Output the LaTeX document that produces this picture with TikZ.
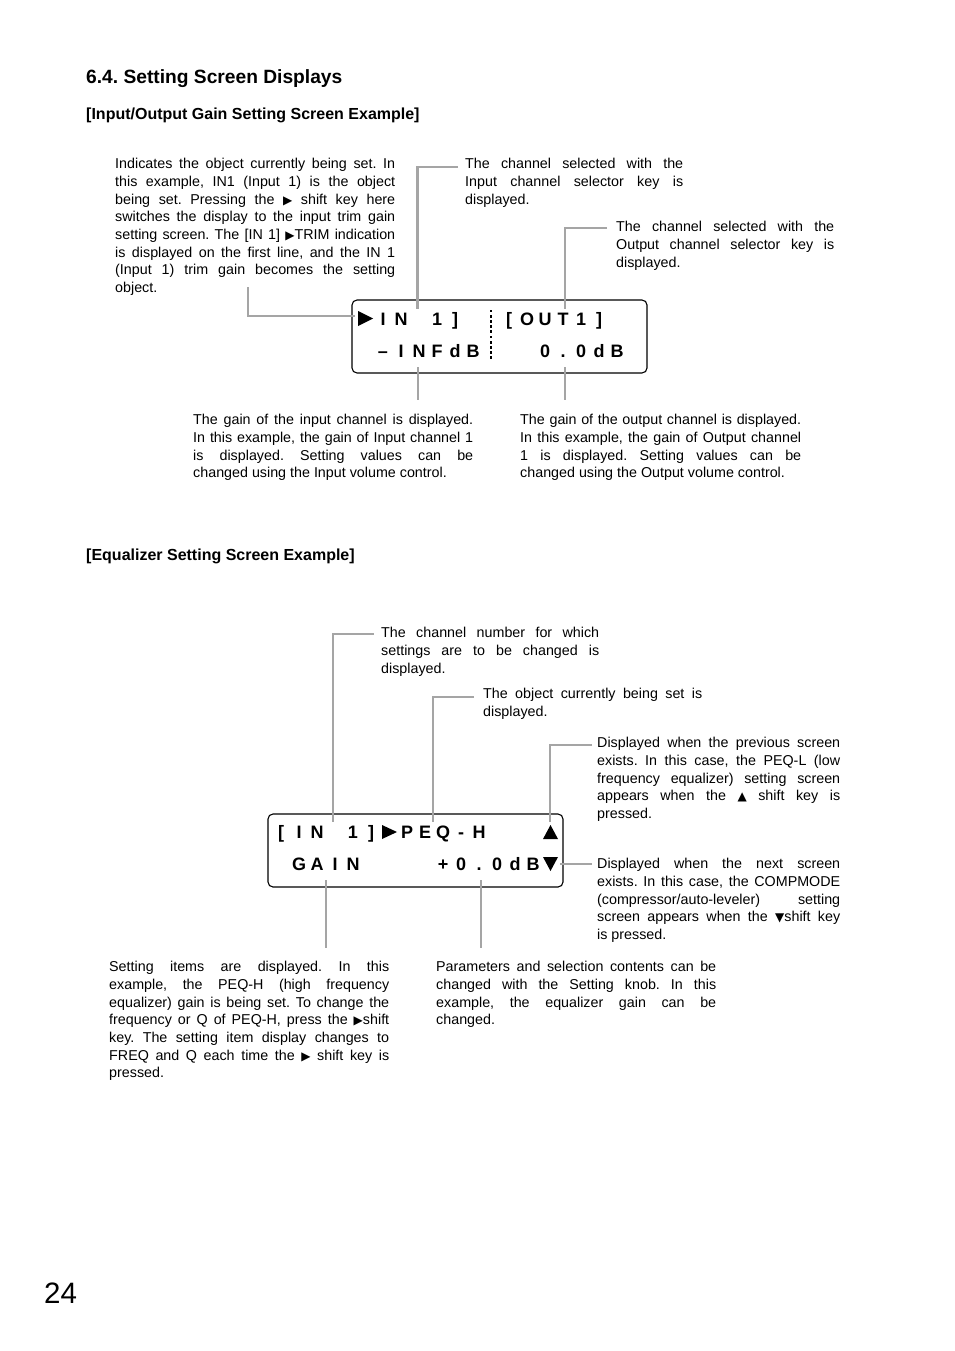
\documentclass[tikz,border=0pt]{standalone}
\usepackage{fontspec}
\setmainfont{Liberation Sans}
\newfontfamily\symf{DejaVu Sans}
\newcommand{\rtri}{{\symf\fontsize{12}{10}\selectfont ▶}}
\newcommand{\utri}{{\symf\fontsize{12}{10}\selectfont ▲}}
\newcommand{\dtri}{{\symf\fontsize{12}{10}\selectfont ▼}}
\definecolor{leadc}{RGB}{165,165,165}
\frenchspacing
\tikzset{
  body/.style={anchor=north west, inner sep=0pt, align=justify, font=\fontsize{14.3}{17.7}\selectfont\frenchspacing},
  leader/.style={draw=leadc, line width=2.4pt},
  lcdbox/.style={draw=black, line width=1.1pt, rounded corners=5pt},
  lcd/.style={anchor=base, inner sep=0pt, font=\bfseries\fontsize{18}{18}\selectfont},
  tri/.style={fill=black, draw=none},
  head/.style={anchor=base west, inner sep=0pt}
}
\begin{document}
\begin{tikzpicture}[x=1pt,y=-1pt]
\useasboundingbox (0,0) rectangle (954,1351);

% headings
\node[head, font=\bfseries\fontsize{19.2}{22}\selectfont\frenchspacing] (h1) at (86,83.3) {6.4. Setting Screen Displays};
\node[head, font=\bfseries\fontsize{16}{18}\selectfont] (h2) at (86,120) {[Input/Output Gain Setting Screen Example]};
\node[head, font=\bfseries\fontsize{16}{18}\selectfont] (h3) at (86,560) {[Equalizer Setting Screen Example]};
\node[head, font=\fontsize{29.5}{34}\selectfont] (pg) at (44,1303) {24};

% ---------- Display 1 ----------
\path[lcdbox] (352,300) rectangle (647,373);
\node[inner sep=0pt, minimum width=295pt, minimum height=73pt] (disp1) at (499.5,336.5) {};
\draw[tri] (358,311) -- (373,318.5) -- (358,326) -- cycle;
\foreach \c/\t in {1/I,2/N,4/1,5/],8/[,9/O,10/U,11/T,12/1,13/]}
  \node[lcd] at ({365+18*\c},325.5) {\t};
\foreach \c/\t in {1/–,2/I,3/N,4/F,5/d,6/B,10/0,11/.,12/0,13/d,14/B}
  \node[lcd] at ({365+18*\c},357.5) {\t};
\foreach \yy in {311,316.2,...,362}
  \fill (489.6,\yy-1.4) rectangle ++(2.8,2.8);

% text blocks (display 1)
\node[body, text width=280pt] (b1) at (115,156.1) {\strut Indicates the object currently being set. In\linebreak this example, IN1 (Input 1) is the object\linebreak being set. Pressing the \rtri{} shift key here\linebreak switches the display to the input trim gain\linebreak setting screen. The [IN 1] \rtri TRIM indication\linebreak is displayed on the first line, and the IN 1\linebreak (Input 1) trim gain becomes the setting\linebreak object.};
\node[body, text width=218pt] (b2) at (465,156.1) {\strut The channel selected with the\linebreak Input channel selector key is\linebreak displayed.};
\node[body, text width=218pt] (b3) at (616,219.1) {\strut The channel selected with the\linebreak Output channel selector key is\linebreak displayed.};
\node[body, text width=280pt] (b4) at (193,412.1) {\strut The gain of the input channel is displayed.\linebreak In this example, the gain of Input channel 1\linebreak is displayed. Setting values can be\linebreak changed using the Input volume control.};
\node[body, text width=281pt] (b5) at (520,412.1) {\strut The gain of the output channel is displayed.\linebreak In this example, the gain of Output channel\linebreak 1 is displayed. Setting values can be\linebreak changed using the Output volume control.};

% leaders (display 1)
\coordinate (c1a) at (248,287);
\coordinate (c1b) at (248,316);
\coordinate (c1c) at (355,316);
\draw[leader] (c1a) -- (c1b) -- (c1c);
\coordinate (c2a) at (458,167);
\coordinate (c2b) at (417.5,167);
\coordinate (c2c) at (417.5,309);
\draw[leader] (c2a) -- (c2b) -- (c2c);
\coordinate (c3a) at (607,228);
\coordinate (c3b) at (565,228);
\coordinate (c3c) at (565,309);
\draw[leader] (c3a) -- (c3b) -- (c3c);
\coordinate (c4a) at (418,367);
\coordinate (c4b) at (418,400);
\draw[leader] (c4a) -- (c4b);
\coordinate (c5a) at (565,367);
\coordinate (c5b) at (565,400);
\draw[leader] (c5a) -- (c5b);

% ---------- Display 2 ----------
\path[lcdbox] (268,814) rectangle (563,887);
\node[inner sep=0pt, minimum width=295pt, minimum height=73pt] (disp2) at (415.5,850.5) {};
\foreach \c/\t in {0/[,1/I,2/N,4/1,5/],7/P,8/E,9/Q,10/-,11/H}
  \node[lcd] at ({281+18*\c},838.5) {\t};
\foreach \c/\t in {1/G,2/A,3/I,4/N,9/+,10/0,11/.,12/0,13/d,14/B}
  \node[lcd] at ({281+18*\c},870.5) {\t};
\draw[tri] (382,825) -- (397,832) -- (382,839) -- cycle;
\draw[tri] (543,839) -- (550.5,825) -- (558,839) -- cycle;
\draw[tri] (543,857) -- (558,857) -- (550.5,871) -- cycle;

% text blocks (display 2)
\node[body, text width=218pt] (b6) at (381,625.1) {\strut The channel number for which\linebreak settings are to be changed is\linebreak displayed.};
\node[body, text width=219pt] (b7) at (483,686.1) {\strut The object currently being set is\linebreak displayed.};
\node[body, text width=243pt] (b8) at (597,735.1) {\strut Displayed when the previous screen\linebreak exists. In this case, the PEQ-L (low\linebreak frequency equalizer) setting screen\linebreak appears when the \utri{} shift key is\linebreak pressed.};
\node[body, text width=243pt] (b9) at (597,856.1) {\strut Displayed when the next screen\linebreak exists. In this case, the COMPMODE\linebreak (compressor/auto-leveler) setting\linebreak screen appears when the \dtri shift key\linebreak is pressed.};
\node[body, text width=280pt] (b10) at (109,959.1) {\strut Setting items are displayed. In this\linebreak example, the PEQ-H (high frequency\linebreak equalizer) gain is being set. To change the\linebreak frequency or Q of PEQ-H, press the \rtri shift\linebreak key. The setting item display changes to\linebreak FREQ and Q each time the \rtri{} shift key is\linebreak pressed.};
\node[body, text width=280pt] (b11) at (436,959.1) {\strut Parameters and selection contents can be\linebreak changed with the Setting knob. In this\linebreak example, the equalizer gain can be\linebreak changed.};

% leaders (display 2)
\coordinate (d1a) at (374,634);
\coordinate (d1b) at (333,634);
\coordinate (d1c) at (333,822);
\draw[leader] (d1a) -- (d1b) -- (d1c);
\coordinate (d2a) at (474,697);
\coordinate (d2b) at (433,697);
\coordinate (d2c) at (433,822);
\draw[leader] (d2a) -- (d2b) -- (d2c);
\coordinate (d3a) at (592,745);
\coordinate (d3b) at (550,745);
\coordinate (d3c) at (550,822);
\draw[leader] (d3a) -- (d3b) -- (d3c);
\coordinate (d4a) at (560,864);
\coordinate (d4b) at (592,864);
\draw[leader] (d4a) -- (d4b);
\coordinate (d5a) at (326,880);
\coordinate (d5b) at (326,948);
\draw[leader] (d5a) -- (d5b);
\coordinate (d6a) at (481,880);
\coordinate (d6b) at (481,948);
\draw[leader] (d6a) -- (d6b);
\end{tikzpicture}
\end{document}
